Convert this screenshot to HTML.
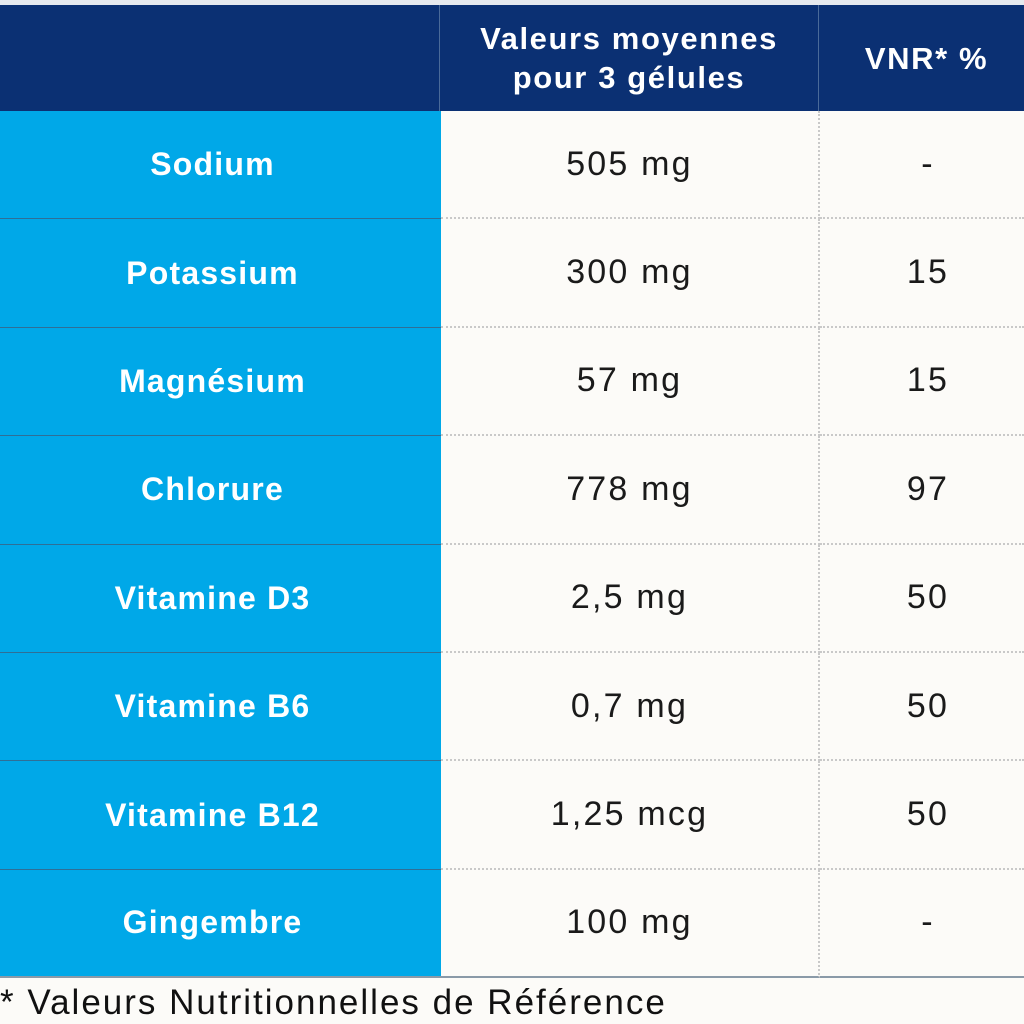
<!DOCTYPE html>
<html><head><meta charset="utf-8">
<style>
html,body{margin:0;padding:0;width:1024px;height:1024px;background:#fcfbf8;overflow:hidden;font-family:"Liberation Sans",sans-serif;}
.abs{position:absolute;box-sizing:border-box;}
.hdr{background:#0b3073;color:#fff;font-weight:bold;font-size:31px;letter-spacing:1.6px;display:flex;align-items:center;justify-content:center;text-align:center;line-height:39px;}
.lab{background:#00a8e8;color:#fff;font-weight:bold;font-size:32px;letter-spacing:1.2px;display:flex;align-items:center;justify-content:center;border-bottom:1px solid #2f6f96;padding-right:16px;}
.val{color:#1a1a1a;font-size:34px;letter-spacing:2.2px;display:flex;align-items:center;justify-content:center;border-bottom:2px dotted #c9c9c9;}
.sep{border-right:2px dotted #c9c9c9;}
</style></head><body>
<div class="abs" style="left:0;top:0;width:1024px;height:5px;background:#e6e9ee"></div>
<div class="abs hdr" style="left:0;top:5px;width:440px;height:106px;border-right:1px solid #4a6a99"></div>
<div class="abs hdr" style="left:440px;top:5px;width:379px;height:106px;border-right:1px solid #4a6a99">Valeurs moyennes<br>pour 3 gélules</div>
<div class="abs hdr" style="left:819px;top:5px;width:205px;height:106px;padding-left:10px">VNR* %</div>
<div id="rows"></div>
<div class="abs" style="left:0;top:983px;width:1024px;height:40px;font-size:35px;letter-spacing:2px;color:#111;white-space:nowrap">*&nbsp;Valeurs Nutritionnelles de Référence</div>
<script>
const nutrients=["Sodium","Potassium","Magnésium","Chlorure","Vitamine D3","Vitamine B6","Vitamine B12","Gingembre"];
const amounts=["505 mg","300 mg","57 mg","778 mg","2,5 mg","0,7 mg","1,25 mcg","100 mg"];
const vnr=["-","15","15","97","50","50","50","-"];
const root=document.getElementById('rows');
const top0=111,rowH=108.4;
nutrients.forEach((n,i)=>{
  const y=top0+i*rowH;
  const last=i===nutrients.length-1;
  const a=document.createElement('div');
  a.className='abs lab';
  
  
  a.style.cssText=`left:0;top:${y}px;width:441px;height:${rowH}px;`+(last?'border-bottom:2px solid #8a9aa8;':'');
  a.textContent=n;root.appendChild(a);
  const b=document.createElement('div');
  b.className='abs val sep';
  
  
  b.style.cssText=`left:441px;top:${y}px;width:379px;height:${rowH}px;`+(last?'border-bottom:2px solid #8a9aa8;':'');
  b.textContent=amounts[i];root.appendChild(b);
  const c=document.createElement('div');
  c.className='abs val';
  
  
  c.style.cssText=`left:820px;top:${y}px;width:204px;height:${rowH}px;padding-left:12px;`+(last?'border-bottom:2px solid #8a9aa8;':'');
  c.textContent=vnr[i];root.appendChild(c);
});
</script>
</body></html>
